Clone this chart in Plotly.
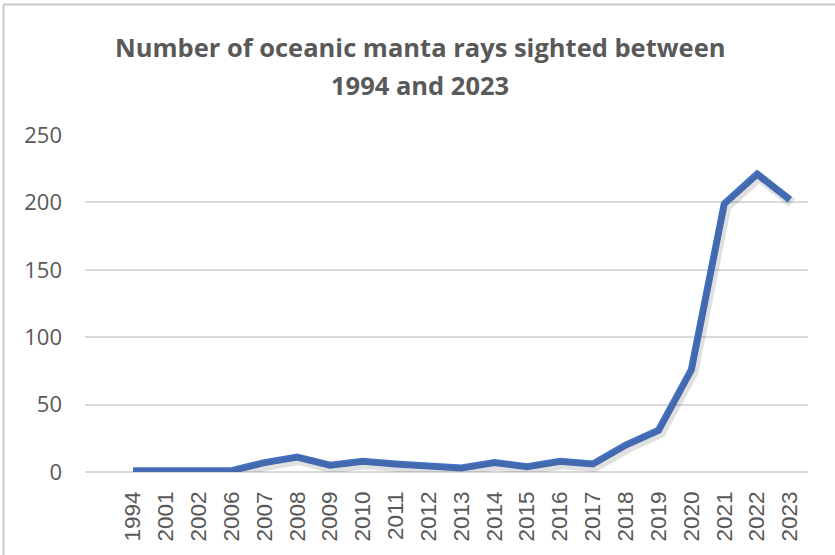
import plotly.graph_objects as go

# Sightings per year (categorical x axis)
years = ["1994", "2001", "2002", "2006", "2007", "2008", "2009", "2010", "2011",
         "2012", "2013", "2014", "2015", "2016", "2017", "2018", "2019", "2020",
         "2021", "2022", "2023"]
sightings = [1, 1, 1, 1, 7, 11, 5, 8, 6, 4, 3, 7, 4, 8, 6, 20, 31, 76, 199, 221, 202]
y_ticks = [0, 50, 100, 150, 200, 250]

title_lines = ["Number of oceanic manta rays sighted between", "1994 and 2023"]

W, H = 835, 555
L, R, T, B = 85, 27, 135, 83

X_RANGE = [-1.46, 20.55]
Y_RANGE = [0, 250]

pw = W - L - R
ph = H - T - B

def px_x(p):
    return (p - L) / pw

def px_y(p):
    return (H - B - p) / ph

# drop-shadow: same series on hidden overlay axes nudged a few pixels right/down
sx = 2 * (X_RANGE[1] - X_RANGE[0]) / pw
sy = 3 * (Y_RANGE[1] - Y_RANGE[0]) / ph

fig = go.Figure()
fig.add_trace(go.Scatter(
    x=list(range(len(years))), y=sightings, mode="lines",
    line=dict(color="rgba(60,60,60,0.16)", width=10),
    xaxis="x2", yaxis="y2", hoverinfo="skip", showlegend=False,
))
fig.add_trace(go.Scatter(
    x=list(range(len(years))), y=sightings, mode="lines",
    line=dict(color="#4472C4", width=7),
    hoverinfo="skip", showlegend=False,
))

title_font = dict(family="Open Sans", size=25.5, color="#595959", weight="bold")
annotations = [
    dict(text=line, xref="paper", yref="paper", x=px_x(420), y=px_y(cy),
         xanchor="center", yanchor="middle", showarrow=False, font=title_font)
    for line, cy in zip(title_lines, [47, 85])
]

fig.update_layout(
    width=W, height=H,
    margin=dict(l=L, r=R, t=T, b=B, pad=0),
    paper_bgcolor="white", plot_bgcolor="white",
    annotations=annotations,
    xaxis=dict(
        tickmode="array", tickvals=list(range(len(years))), ticktext=years,
        range=X_RANGE, showgrid=False, zeroline=False, showline=False,
        tickangle=-90, ticks="", ticklen=0, ticklabelstandoff=14,
        tickfont=dict(family="Liberation Sans", size=22.5, color="#595959"),
    ),
    yaxis=dict(
        tickmode="array", tickvals=y_ticks, range=Y_RANGE,
        showgrid=True, gridcolor="#D9D9D9", gridwidth=1.5,
        zeroline=True, zerolinecolor="#D9D9D9", zerolinewidth=1.5,
        showline=False, ticks="", ticklabelstandoff=22,
        tickfont=dict(family="Open Sans", size=22, color="#595959"),
    ),
    xaxis2=dict(overlaying="x", range=[X_RANGE[0] - sx, X_RANGE[1] - sx],
                visible=False),
    yaxis2=dict(overlaying="y", range=[Y_RANGE[0] + sy, Y_RANGE[1] + sy],
                visible=False),
    shapes=[
        dict(type="line", xref="paper", yref="paper",
             x0=px_x(3.5), x1=px_x(835), y0=px_y(4.5), y1=px_y(4.5),
             line=dict(color="#C8C8C8", width=2)),
        dict(type="line", xref="paper", yref="paper",
             x0=px_x(3.5), x1=px_x(3.5), y0=px_y(4.5), y1=px_y(555),
             line=dict(color="#C8C8C8", width=2)),
    ],
)

fig.write_html("out.html")
